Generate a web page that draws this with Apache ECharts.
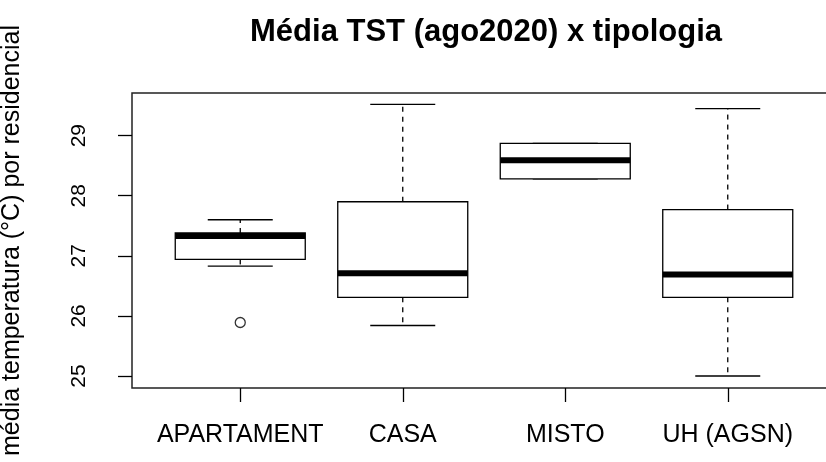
<!DOCTYPE html>
<html>
<head>
<meta charset="utf-8">
<script src="https://cdn.jsdelivr.net/npm/echarts@6/dist/echarts.min.js"></script>
<style>
  html, body { margin: 0; padding: 0; background: #fff; }
  #chart { width: 826px; height: 462px; }
</style>
</head>
<body>
<div id="chart"></div>
<script>
const categories = ["APARTAMENT", "CASA", "MISTO", "UH (AGSN)"];
const lowerWhisker = [26.83, 25.84, 28.28, 25.0];
const q1 = [26.94, 26.31, 28.28, 26.31];
const median = [27.33, 26.71, 28.59, 26.69];
const q3 = [27.38, 27.9, 28.87, 27.77];
const upperWhisker = [27.6, 29.52, 28.87, 29.45];
const outliers = [["APARTAMENT", 25.89]];
const yTicks = [25, 26, 27, 28, 29];

const font = "'Liberation Sans', Arial, sans-serif";

// [indice, min, q1, mediana, q3, max]
const boxData = categories.map((c, i) => [
  i, lowerWhisker[i], q1[i], median[i], q3[i], upperWhisker[i],
]);

function renderBox(params, api) {
  const x = api.value(0);
  const pLow = api.coord([x, api.value(1)]);
  const pQ1 = api.coord([x, api.value(2)]);
  const pMed = api.coord([x, api.value(3)]);
  const pQ3 = api.coord([x, api.value(4)]);
  const pHigh = api.coord([x, api.value(5)]);
  const band = api.size([1, 0])[0];
  const boxW = band * 0.8;
  const capW = boxW * 0.5;
  const cx = pMed[0];
  const solid = { stroke: "#000", lineWidth: 1.3 };
  const dashed = { stroke: "#000", lineWidth: 1.3, lineDash: [5, 5] };
  return {
    type: "group",
    children: [
      { type: "line", shape: { x1: cx, y1: pQ3[1], x2: cx, y2: pHigh[1] }, style: dashed },
      { type: "line", shape: { x1: cx, y1: pQ1[1], x2: cx, y2: pLow[1] }, style: dashed },
      { type: "line", shape: { x1: cx - capW / 2, y1: pHigh[1], x2: cx + capW / 2, y2: pHigh[1] }, style: solid },
      { type: "line", shape: { x1: cx - capW / 2, y1: pLow[1], x2: cx + capW / 2, y2: pLow[1] }, style: solid },
      {
        type: "rect",
        shape: { x: cx - boxW / 2, y: pQ3[1], width: boxW, height: pQ1[1] - pQ3[1] },
        style: { fill: "#fff", stroke: "#000", lineWidth: 1.3 },
      },
      { type: "line", shape: { x1: cx - boxW / 2, y1: pMed[1], x2: cx + boxW / 2, y2: pMed[1] }, style: { stroke: "#000", lineWidth: 6 } },
    ],
  };
}

const chart = echarts.init(document.getElementById("chart"));

const option = {
  backgroundColor: "#fff",
  animation: false,
  textStyle: { fontFamily: font },
  title: {
    text: "Média TST (ago2020) x tipologia",
    left: 481,
    top: 12,
    textAlign: "center",
    textStyle: { fontFamily: font, fontWeight: "bold", fontSize: 31, color: "#000" },
  },
  grid: [
    // moldura do gráfico
    {
      left: 132, top: 93, width: 704, height: 295,
      outerBoundsMode: "none", containLabel: false,
      show: true, borderColor: "#222", borderWidth: 1.5, backgroundColor: "transparent",
    },
    // área das categorias
    { left: 159, top: 93, width: 650, height: 295, outerBoundsMode: "none", containLabel: false },
  ],
  xAxis: [
    { gridIndex: 0, type: "value", min: 0, max: 1, show: false },
    {
      gridIndex: 1,
      type: "category",
      data: categories,
      axisLine: { show: false },
      axisTick: { show: true, interval: 0, alignWithLabel: true, length: 14, lineStyle: { color: "#000", width: 1.3 } },
      axisLabel: { color: "#000", fontSize: 25, interval: 0, hideOverlap: false, margin: 35, fontFamily: font },
      splitLine: { show: false },
    },
  ],
  yAxis: [
    {
      gridIndex: 0,
      type: "value",
      min: 24.8,
      max: 29.71,
      name: "média temperatura (°C) por residencial",
      nameLocation: "middle",
      nameGap: 107,
      nameRotate: 90,
      nameTextStyle: { fontSize: 25, color: "#000", fontFamily: font },
      axisLine: { show: false },
      axisTick: { show: true, length: 14, customValues: yTicks, lineStyle: { color: "#000", width: 1.3 } },
      axisLabel: { color: "#000", fontSize: 21, rotate: 90, margin: 42, customValues: yTicks, fontFamily: font },
      splitLine: { show: false },
    },
    { gridIndex: 1, type: "value", min: 24.8, max: 29.71, show: false },
  ],
  series: [
    {
      type: "custom",
      xAxisIndex: 1,
      yAxisIndex: 1,
      renderItem: renderBox,
      encode: { x: 0, y: [1, 2, 3, 4, 5] },
      data: boxData,
    },
    {
      type: "scatter",
      xAxisIndex: 1,
      yAxisIndex: 1,
      symbol: "circle",
      symbolSize: 10,
      itemStyle: { color: "#fff", borderColor: "#000", borderWidth: 1.3 },
      data: outliers,
    },
  ],
};

chart.setOption(option);
</script>
</body>
</html>
